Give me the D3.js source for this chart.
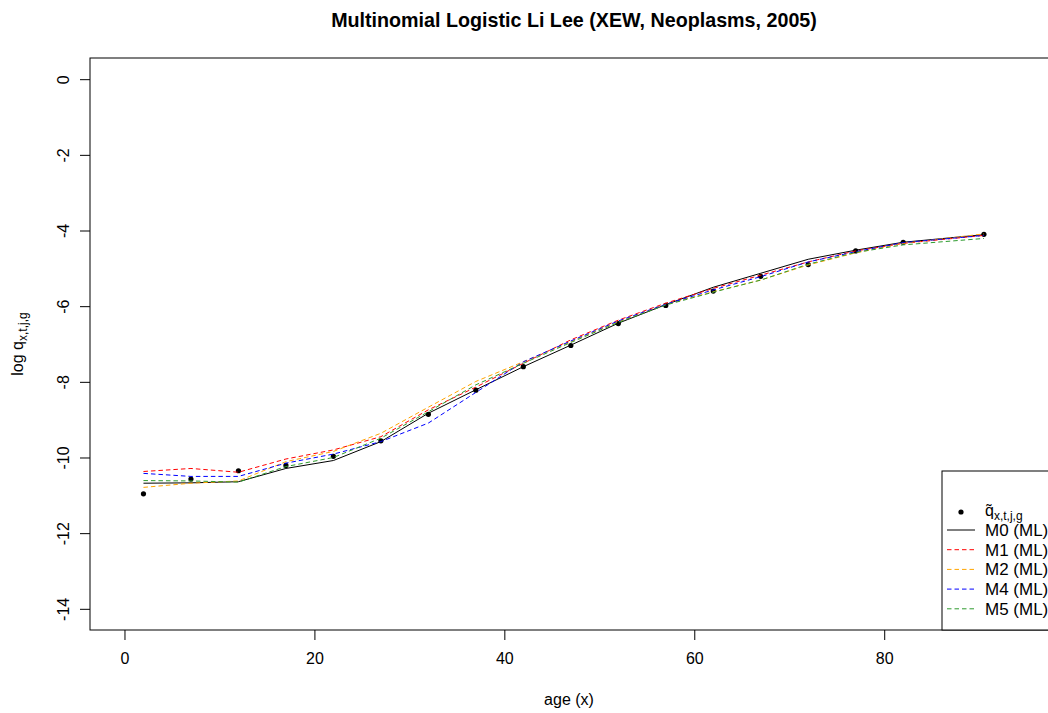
<!DOCTYPE html>
<html>
<head>
<meta charset="utf-8">
<script src="https://cdn.jsdelivr.net/npm/d3@7"></script>
<style>
  body { margin: 0; background: #fff; }
  svg { display: block; font-family: 'Liberation Sans', Arial, sans-serif; }
</style>
</head>
<body>
<div id="chart"></div>
<script>
// ages (mid points of the age groups)
const ages = [2, 7, 12, 17, 22, 27, 32, 37, 42, 47, 52, 57, 62, 67, 72, 77, 82, 90.5];

// observed log q
const observed = [-10.96, -10.57, -10.35, -10.21, -9.97, -9.56, -8.86, -8.22, -7.6, -7.04, -6.46, -5.98, -5.6, -5.21, -4.9, -4.54, -4.31, -4.1];

// fitted models
const m0 = [-10.68, -10.67, -10.64, -10.29, -10.08, -9.58, -8.83, -8.21, -7.6, -7.03, -6.45, -5.96, -5.5, -5.13, -4.76, -4.52, -4.31, -4.11];
const m1 = [-10.37, -10.29, -10.39, -10.04, -9.8, -9.45, -8.74, -8.14, -7.51, -6.89, -6.37, -5.92, -5.53, -5.18, -4.83, -4.54, -4.34, -4.13];
const m2 = [-10.79, -10.68, -10.62, -10.11, -9.84, -9.36, -8.67, -7.99, -7.47, -6.94, -6.41, -5.95, -5.62, -5.31, -4.91, -4.59, -4.34, -4.09];
const m4 = [-10.42, -10.5, -10.5, -10.15, -9.91, -9.58, -9.09, -8.28, -7.47, -6.92, -6.39, -5.95, -5.57, -5.22, -4.83, -4.56, -4.32, -4.13];
const m5 = [-10.61, -10.62, -10.65, -10.24, -10.0, -9.49, -8.79, -8.08, -7.51, -6.96, -6.43, -5.97, -5.63, -5.31, -4.89, -4.58, -4.38, -4.21];

const seriesNames = ['M0 (ML)', 'M1 (ML)', 'M2 (ML)', 'M4 (ML)', 'M5 (ML)'];
const seriesColors = ['#000000', '#FF0000', '#FFA500', '#0000FF', '#2E9B2E'];
const xTicks = [0, 20, 40, 60, 80];
const yTicks = [0, -2, -4, -6, -8, -10, -12, -14];

const size = { width: 1048, height: 713 };
const plot = { left: 90, top: 58, right: 1058, bottom: 630 };

const svg = d3.select('#chart')
  .append('svg')
  .attr('width', size.width)
  .attr('height', size.height);

const x = d3.scaleLinear()
  .domain([-3.63, 98.3])
  .range([plot.left, plot.right]);
const y = d3.scaleLinear()
  .domain([-14.56, 0.56])
  .range([plot.bottom, plot.top]);

// title
svg.append('text')
  .attr('x', (plot.left + plot.right) / 2)
  .attr('y', 27)
  .attr('text-anchor', 'middle')
  .style('font-size', '19.7px')
  .style('font-weight', 'bold')
  .text('Multinomial Logistic Li Lee (XEW, Neoplasms, 2005)');

// x axis
const xAxis = svg.append('g')
  .attr('transform', `translate(0, ${plot.bottom})`)
  .call(d3.axisBottom(x).tickValues(xTicks).tickSize(10).tickPadding(13).tickFormat(d3.format('d')));
xAxis.select('.domain').remove();
xAxis.selectAll('text').style('font-size', '16px').attr('fill', '#000');
xAxis.selectAll('line').attr('stroke', '#000');

// y axis
const yAxis = svg.append('g')
  .attr('transform', `translate(${plot.left}, 0)`)
  .call(d3.axisLeft(y).tickValues(yTicks).tickSize(10).tickFormat((d) => d));
yAxis.select('.domain').remove();
yAxis.selectAll('line').attr('stroke', '#000');
yAxis.selectAll('text')
  .style('font-size', '16px')
  .attr('fill', '#000')
  .attr('text-anchor', 'middle')
  .attr('dy', null)
  .attr('x', null)
  .attr('transform', 'translate(-27, 0) rotate(-90)')
  .attr('dominant-baseline', 'central');

// axis titles
svg.append('text')
  .attr('x', (plot.left + plot.right) / 2 - 5)
  .attr('y', 705)
  .attr('text-anchor', 'middle')
  .style('font-size', '16px')
  .text('age (x)');

const yLab = svg.append('text')
  .attr('transform', `translate(23, ${(plot.top + plot.bottom) / 2}) rotate(-90)`)
  .attr('text-anchor', 'middle')
  .style('font-size', '16px');
yLab.append('tspan').text('log q');
yLab.append('tspan').attr('dy', 4).style('font-size', '12px').text('x,t,j,g');

// clip for the plotting region
svg.append('clipPath')
  .attr('id', 'plotClip')
  .append('rect')
  .attr('x', plot.left)
  .attr('y', plot.top)
  .attr('width', plot.right - plot.left)
  .attr('height', plot.bottom - plot.top);

const line = d3.line()
  .x((d) => x(d[0]))
  .y((d) => y(d[1]));

const series = [m0, m1, m2, m4, m5];
const area = svg.append('g').attr('clip-path', 'url(#plotClip)');

area.selectAll('circle.obs')
  .data(ages.map((a, i) => [a, observed[i]]))
  .join('circle')
  .attr('class', 'obs')
  .attr('cx', (d) => x(d[0]))
  .attr('cy', (d) => y(d[1]))
  .attr('r', 2.6)
  .attr('fill', '#000');

area.selectAll('path.fit')
  .data(series)
  .join('path')
  .attr('class', 'fit')
  .attr('d', (s) => line(ages.map((a, i) => [a, s[i]])))
  .attr('fill', 'none')
  .attr('stroke', (s, i) => seriesColors[i])
  .attr('stroke-width', 1)
  .attr('stroke-dasharray', (s, i) => (i === 0 ? null : '4.5,3'));

// box around the plot
svg.append('rect')
  .attr('x', plot.left)
  .attr('y', plot.top)
  .attr('width', plot.right - plot.left)
  .attr('height', plot.bottom - plot.top)
  .attr('fill', 'none')
  .attr('stroke', '#000');

// legend
const legend = svg.append('g');
legend.append('rect')
  .attr('x', 942)
  .attr('y', 471)
  .attr('width', 140)
  .attr('height', plot.bottom - 471)
  .attr('fill', '#fff')
  .attr('stroke', '#000');

legend.append('circle')
  .attr('cx', 961)
  .attr('cy', 512)
  .attr('r', 2.6)
  .attr('fill', '#000');

const qLab = legend.append('text')
  .attr('x', 985)
  .attr('y', 516)
  .style('font-size', '16px');
qLab.append('tspan').text('q\u0303');
qLab.append('tspan').attr('dy', 4).style('font-size', '12px').text('x,t,j,g');

seriesNames.forEach((name, i) => {
  const ly = 530 + i * 19.7;
  legend.append('line')
    .attr('x1', 947)
    .attr('x2', 975)
    .attr('y1', ly)
    .attr('y2', ly)
    .attr('stroke', seriesColors[i])
    .attr('stroke-dasharray', i === 0 ? null : '4.5,3');
  legend.append('text')
    .attr('x', 985)
    .attr('y', ly + 6)
    .style('font-size', '17px')
    .text(name);
});
</script>
</body>
</html>
